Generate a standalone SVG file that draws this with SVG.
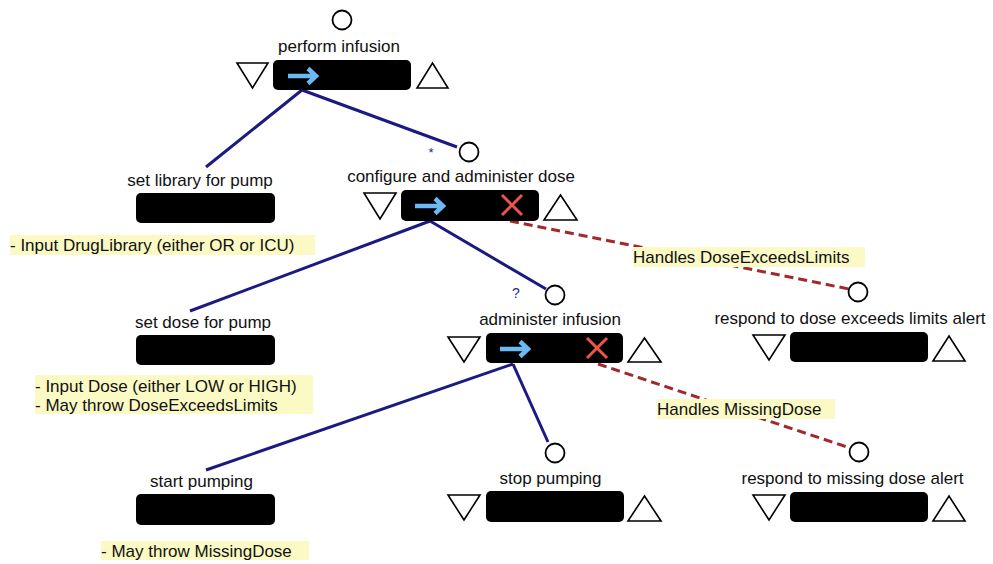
<svg xmlns="http://www.w3.org/2000/svg" width="993" height="564" viewBox="0 0 993 564">
<defs>
<style>
text{font-family:"Liberation Sans",Arial,sans-serif;font-size:17px;fill:#111}
.lbl{text-anchor:middle}
.bar{fill:#000}
.tri{fill:#fff;stroke:#000;stroke-width:1.6;stroke-linejoin:miter}
.circ{fill:#fff;stroke:#000;stroke-width:1.8}
.note{fill:#fbfac4}
.arw{fill:none;stroke:#6cb9f2;stroke-width:4.5;stroke-linecap:butt;stroke-linejoin:miter}
.xx{stroke:#f0524c;stroke-width:3;stroke-linecap:butt}
.edge{stroke:#1c1a80;stroke-width:3;fill:none}
.exc{stroke:#a2282c;stroke-width:3;fill:none;stroke-dasharray:9,5}
.mk{fill:#2a2a90;font-size:13px;text-anchor:middle}
</style>
</defs>
<g id="connectors">
<line class="edge" x1="302" y1="90" x2="206" y2="167"/>
<line class="edge" x1="302" y1="90" x2="457" y2="147"/>
<line class="edge" x1="430" y1="221" x2="190" y2="311"/>
<line class="edge" x1="430" y1="221" x2="546" y2="289"/>
<line class="edge" x1="513" y1="364" x2="206" y2="470"/>
<line class="edge" x1="513" y1="364" x2="548" y2="442"/>
<line class="exc" x1="510" y1="221" x2="849" y2="289"/>
<line class="exc" x1="598" y1="364" x2="850" y2="448"/>
<text class="mk" x="431" y="157">*</text>
<text class="mk" x="516" y="298" style="font-size:14px">?</text>
</g>
<g id="perform-infusion">
<circle class="circ" cx="342" cy="20" r="9.5"/>
<text class="lbl" x="339" y="52">perform infusion</text>
<polygon class="tri" points="237,63 268,63 252.5,88"/>
<rect class="bar" x="273" y="60" width="138" height="30" rx="5"/>
<path class="arw" d="M288,76 H315 M308,68.5 L316,76 L308,83.5"/>
<polygon class="tri" points="417,88 448,88 432.5,63"/>
</g>
<g id="set-library">
<text class="lbl" x="200" y="186">set library for pump</text>
<rect class="bar" x="136" y="193" width="139" height="30" rx="5"/>
<rect class="note" x="10" y="235" width="305" height="20"/>
<text x="10" y="251">- Input DrugLibrary (either OR or ICU)</text>
</g>
<g id="configure-dose">
<circle class="circ" cx="469" cy="152" r="9.5"/>
<text class="lbl" x="461" y="182">configure and administer dose</text>
<polygon class="tri" points="364,193 396,193 380,219"/>
<rect class="bar" x="401" y="190" width="138" height="31" rx="5"/>
<path class="arw" d="M415,206 H442 M435,198.5 L443,206 L435,213.5"/>
<path class="xx" d="M502,195 L522,215 M522,195 L502,215"/>
<polygon class="tri" points="544,220 577,220 560.5,195"/>
</g>
<g id="set-dose">
<text class="lbl" x="203" y="328">set dose for pump</text>
<rect class="bar" x="136" y="335" width="139" height="30" rx="5"/>
<rect class="note" x="35" y="375" width="278" height="39"/>
<text x="35" y="392">- Input Dose (either LOW or HIGH)</text>
<text x="35" y="411">- May throw DoseExceedsLimits</text>
</g>
<g id="administer-infusion">
<circle class="circ" cx="555" cy="295" r="9.5"/>
<text class="lbl" x="550" y="325">administer infusion</text>
<polygon class="tri" points="448,337 480,337 464,362"/>
<rect class="bar" x="486" y="333" width="137" height="30" rx="5"/>
<path class="arw" d="M500,349 H527 M520,341.5 L528,349 L520,356.5"/>
<path class="xx" d="M587,338 L607,358 M607,338 L587,358"/>
<polygon class="tri" points="628,362 661,362 644.5,338"/>
</g>
<g id="respond-dose-exceeds">
<rect class="note" x="633" y="247" width="232" height="20"/>
<text x="633" y="263">Handles DoseExceedsLimits</text>
<circle class="circ" cx="858" cy="292" r="9.5"/>
<text class="lbl" x="850" y="324">respond to dose exceeds limits alert</text>
<polygon class="tri" points="753,335 785,335 769,360"/>
<rect class="bar" x="790" y="332" width="138" height="30" rx="5"/>
<polygon class="tri" points="933,361 965,361 949,336"/>
</g>
<g id="start-pumping">
<text class="lbl" x="201.5" y="487">start pumping</text>
<rect class="bar" x="136" y="494" width="139" height="31" rx="5"/>
<rect class="note" x="101" y="541" width="208" height="19"/>
<text x="101" y="557">- May throw MissingDose</text>
</g>
<g id="stop-pumping">
<circle class="circ" cx="555" cy="453" r="9.5"/>
<text class="lbl" x="550.5" y="484">stop pumping</text>
<polygon class="tri" points="448,495 480,495 464,520"/>
<rect class="bar" x="486" y="491" width="138" height="31" rx="5"/>
<polygon class="tri" points="628,521 661,521 644.5,496"/>
</g>
<g id="respond-missing-dose">
<rect class="note" x="657" y="399" width="178" height="20"/>
<text x="657" y="415">Handles MissingDose</text>
<circle class="circ" cx="859" cy="452" r="9.5"/>
<text class="lbl" x="852.5" y="484">respond to missing dose alert</text>
<polygon class="tri" points="753,495 785,495 769,520"/>
<rect class="bar" x="790" y="492" width="138" height="30" rx="5"/>
<polygon class="tri" points="933,521 965,521 949,496"/>
</g>
</svg>
